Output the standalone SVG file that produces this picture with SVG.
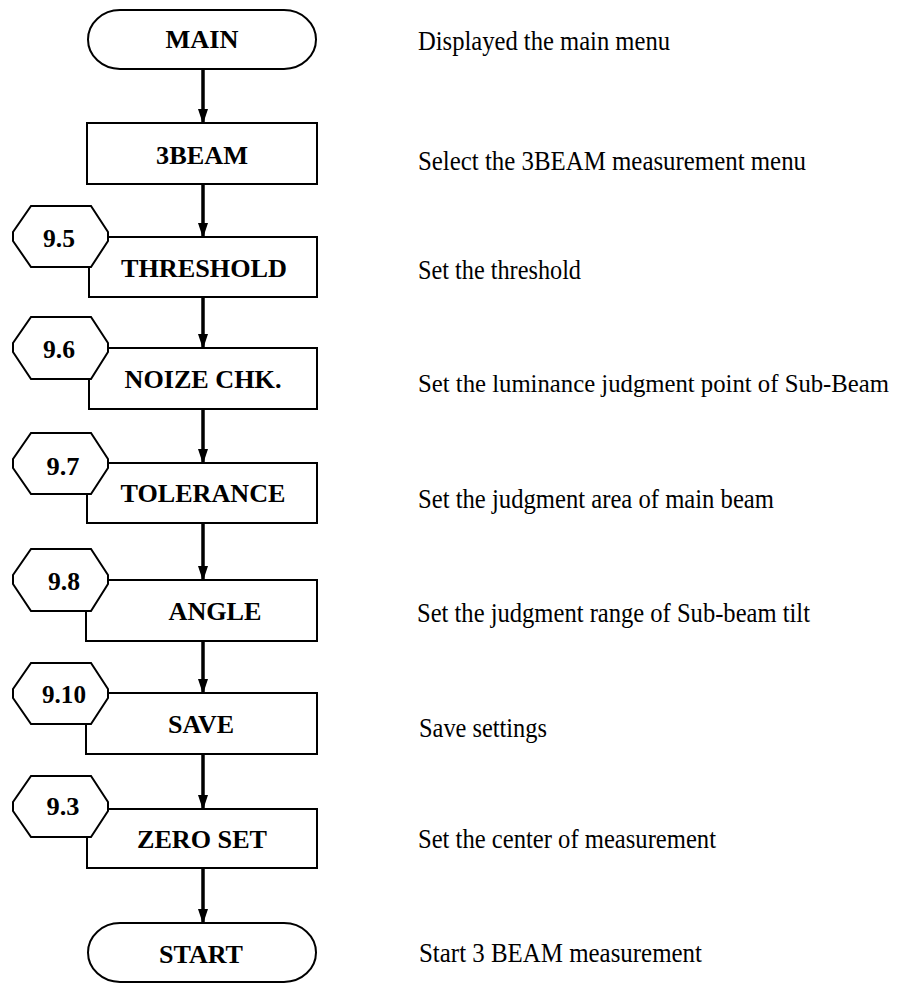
<svg xmlns="http://www.w3.org/2000/svg" width="918" height="983" viewBox="0 0 918 983">
<style>
.shape{fill:#fff;stroke:#000;stroke-width:2}
.lbl{font-family:"Liberation Serif","Times New Roman",serif;font-weight:bold;font-size:26px;fill:#000}
.desc{font-family:"Liberation Serif","Times New Roman",serif;font-size:27px;fill:#000}
.conn{stroke:#000;stroke-width:3.5;fill:none;marker-end:url(#ah)}
</style>
<defs>
<marker id="ah" markerWidth="15" markerHeight="10" refX="14" refY="5" orient="auto" markerUnits="userSpaceOnUse" viewBox="0 0 15 10">
<path d="M0,0 L15,5 L0,10 Z" fill="#000"/>
</marker>
</defs>
<rect width="918" height="983" fill="#fff"/>

<g id="connectors">
<line class="conn" x1="203" y1="69" x2="203" y2="123"/>
<line class="conn" x1="203" y1="184" x2="203" y2="237"/>
<line class="conn" x1="203" y1="297" x2="203" y2="348"/>
<line class="conn" x1="203" y1="409" x2="203" y2="463"/>
<line class="conn" x1="203" y1="523" x2="203" y2="580"/>
<line class="conn" x1="203" y1="641" x2="203" y2="693"/>
<line class="conn" x1="203" y1="754" x2="203" y2="809"/>
<line class="conn" x1="203" y1="868" x2="203" y2="923"/>
</g>

<g id="main">
<rect class="shape" x="88" y="10" width="228" height="59" rx="32" ry="29.5"/>
<text class="lbl" x="202" y="48" text-anchor="middle" textLength="73" lengthAdjust="spacingAndGlyphs">MAIN</text>
</g>
<g id="beam3">
<rect class="shape" x="87" y="123" width="230" height="61"/>
<text class="lbl" x="202" y="164" text-anchor="middle" textLength="92" lengthAdjust="spacingAndGlyphs">3BEAM</text>
</g>
<g id="threshold">
<rect class="shape" x="89" y="237" width="228" height="60"/>
<text class="lbl" x="204" y="277" text-anchor="middle" textLength="166" lengthAdjust="spacingAndGlyphs">THRESHOLD</text>
</g>
<g id="ref95">
<path class="shape" d="M31,206 L91,206 L108,232 L108,241 L91,267 L31,267 L13,241 L13,232 Z"/>
<text class="lbl" x="59" y="247" text-anchor="middle" textLength="32" lengthAdjust="spacingAndGlyphs">9.5</text>
</g>
<g id="noize">
<rect class="shape" x="89" y="348" width="228" height="61"/>
<text class="lbl" x="203" y="388" text-anchor="middle" textLength="157" lengthAdjust="spacingAndGlyphs">NOIZE CHK.</text>
</g>
<g id="ref96">
<path class="shape" d="M31,317 L91,317 L108,343 L108,352 L91,379 L31,379 L13,352 L13,343 Z"/>
<text class="lbl" x="59" y="358" text-anchor="middle" textLength="32" lengthAdjust="spacingAndGlyphs">9.6</text>
</g>
<g id="tolerance">
<rect class="shape" x="87" y="463" width="230" height="60"/>
<text class="lbl" x="203" y="502" text-anchor="middle" textLength="165" lengthAdjust="spacingAndGlyphs">TOLERANCE</text>
</g>
<g id="ref97">
<path class="shape" d="M31,433 L91,433 L108,459 L108,468 L91,494 L31,494 L13,468 L13,459 Z"/>
<text class="lbl" x="63" y="475" text-anchor="middle" textLength="33" lengthAdjust="spacingAndGlyphs">9.7</text>
</g>
<g id="angle">
<rect class="shape" x="86" y="580" width="231" height="61"/>
<text class="lbl" x="215" y="620" text-anchor="middle" textLength="93" lengthAdjust="spacingAndGlyphs">ANGLE</text>
</g>
<g id="ref98">
<path class="shape" d="M31,549 L91,549 L108,575 L108,584 L91,611 L31,611 L13,584 L13,575 Z"/>
<text class="lbl" x="64" y="590" text-anchor="middle" textLength="32" lengthAdjust="spacingAndGlyphs">9.8</text>
</g>
<g id="save">
<rect class="shape" x="86" y="693" width="231" height="61"/>
<text class="lbl" x="201" y="733" text-anchor="middle" textLength="66" lengthAdjust="spacingAndGlyphs">SAVE</text>
</g>
<g id="ref910">
<path class="shape" d="M31,663 L91,663 L108,689 L108,698 L91,724 L31,724 L13,698 L13,689 Z"/>
<text class="lbl" x="64" y="703" text-anchor="middle" textLength="44" lengthAdjust="spacingAndGlyphs">9.10</text>
</g>
<g id="zeroset">
<rect class="shape" x="87" y="809" width="230" height="59"/>
<text class="lbl" x="202" y="848" text-anchor="middle" textLength="130" lengthAdjust="spacingAndGlyphs">ZERO SET</text>
</g>
<g id="ref93">
<path class="shape" d="M31,776 L91,776 L108,802 L108,811 L91,837 L31,837 L13,811 L13,802 Z"/>
<text class="lbl" x="63" y="815" text-anchor="middle" textLength="33" lengthAdjust="spacingAndGlyphs">9.3</text>
</g>
<g id="start">
<rect class="shape" x="88" y="923" width="228" height="59" rx="32" ry="29.5"/>
<text class="lbl" x="201" y="963" text-anchor="middle" textLength="84" lengthAdjust="spacingAndGlyphs">START</text>
</g>

<g id="descriptions">
<text class="desc" x="418" y="50" textLength="252" lengthAdjust="spacingAndGlyphs">Displayed the main menu</text>
<text class="desc" x="418" y="170" textLength="388" lengthAdjust="spacingAndGlyphs">Select the 3BEAM measurement menu</text>
<text class="desc" x="418" y="279" textLength="163" lengthAdjust="spacingAndGlyphs">Set the threshold</text>
<text class="desc" x="418" y="392" style="font-size:25px" textLength="471" lengthAdjust="spacingAndGlyphs">Set the luminance judgment point of Sub-Beam</text>
<text class="desc" x="418" y="508" textLength="356" lengthAdjust="spacingAndGlyphs">Set the judgment area of main beam</text>
<text class="desc" x="417" y="622" textLength="393" lengthAdjust="spacingAndGlyphs">Set the judgment range of Sub-beam tilt</text>
<text class="desc" x="419" y="737" textLength="128" lengthAdjust="spacingAndGlyphs">Save settings</text>
<text class="desc" x="418" y="848" textLength="298" lengthAdjust="spacingAndGlyphs">Set the center of measurement</text>
<text class="desc" x="419" y="962" textLength="283" lengthAdjust="spacingAndGlyphs">Start 3 BEAM measurement</text>
</g>
</svg>
